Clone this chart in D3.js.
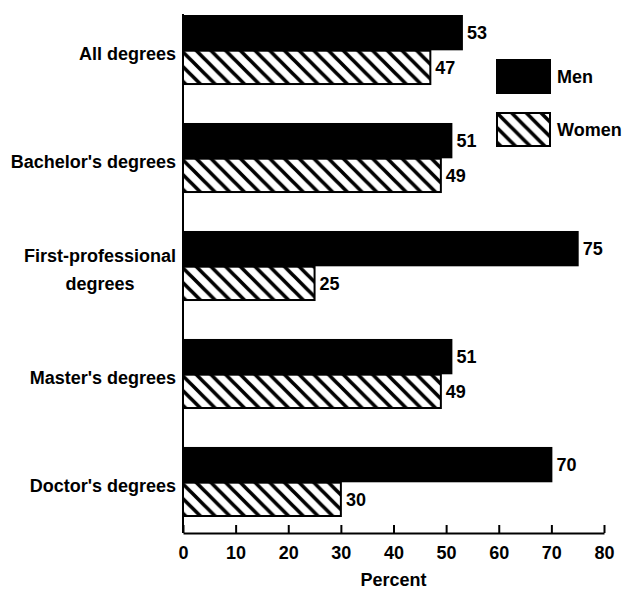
<!DOCTYPE html>
<meta charset="utf-8">
<script src="https://d3js.org/d3.v7.min.js"></script>
<style>
body { margin: 0; background: #fff; }
text { font-family: "Liberation Sans", Arial, sans-serif; fill: #000; }
.cat { font-size: 18px; font-weight: bold; }
.val { font-size: 18px; font-weight: bold; }
.axis text { font-size: 18px; font-weight: bold; }
.axis path, .axis line { stroke: #000; stroke-width: 2px; }
</style>
<div id="main"></div>
<script>

// data (percent of degrees conferred)
const categories = ["All degrees", "Bachelor's degrees", "First-professional\ndegrees", "Master's degrees", "Doctor's degrees"];
const men   = [53, 51, 75, 51, 70];
const women = [47, 49, 25, 49, 30];
const series = ["Men", "Women"];
const ticks = [0, 10, 20, 30, 40, 50, 60, 70, 80];

const width = 628, height = 593;

let svg = d3.select("#main").append("svg")
    .attr("width", width)
    .attr("height", height);

// hatch for women bars, lines running top-left to bottom-right
let defs = svg.append("defs");
let s = 14.7;
defs.append("pattern")
    .attr("id", "hatch")
    .attr("patternUnits", "userSpaceOnUse")
    .attr("width", s)
    .attr("height", s)
  .append("path")
    .attr("d", `M0,0L${s},${s}M${-s/4},${3*s/4}L${s/4},${5*s/4}M${3*s/4},${-s/4}L${5*s/4},${s/4}`)
    .attr("stroke", "#000")
    .attr("stroke-width", 3.6);

let x = d3.scaleLinear().domain([0, 80]).range([183, 604]);

let y = d3.scaleBand()
    .domain(categories)
    .range([16, 516])
    .paddingInner(0.37)
    .paddingOuter(0);

let y1 = d3.scaleBand()
    .domain(series)
    .range([0, y.bandwidth()])
    .paddingInner(0.04);

let rows = categories.map((c, i) => ({cat: c, Men: men[i], Women: women[i]}));

let group = svg.append("g").selectAll("g")
    .data(rows)
    .enter().append("g")
    .attr("transform", d => "translate(0," + y(d.cat) + ")");

let bars = group.selectAll("g")
    .data(d => series.map(k => ({key: k, value: d[k]})))
    .enter().append("g");

bars.append("rect")
    .attr("x", x(0))
    .attr("y", d => y1(d.key))
    .attr("width", d => x(d.value) - x(0))
    .attr("height", y1.bandwidth())
    .attr("fill", d => d.key === "Men" ? "#000" : "url(#hatch)")
    .attr("stroke", "#000")
    .attr("stroke-width", 2);

bars.append("text")
    .attr("class", "val")
    .attr("x", d => x(d.value) + 5)
    .attr("y", d => y1(d.key) + y1.bandwidth() / 2)
    .attr("dy", "0.36em")
    .text(d => d.value);

// category labels
group.each(function(d) {
  let lines = d.cat.split("\n");
  let cy = y.bandwidth() / 2 + 4;
  let t = d3.select(this).append("text")
      .attr("class", "cat")
      .attr("text-anchor", "end")
      .attr("x", 176)
      .attr("y", cy - (lines.length - 1) * 14)
      .attr("dy", "0.35em")
      .text(lines[0]);
  if (lines.length > 1) {
    let w = t.node().getComputedTextLength();
    d3.select(this).append("text")
        .attr("class", "cat")
        .attr("text-anchor", "middle")
        .attr("x", 176 - w / 2)
        .attr("y", cy + 14)
        .attr("dy", "0.35em")
        .text(lines[1]);
  }
});

// axes
let axisY = 533;
svg.append("g")
    .attr("class", "axis")
    .attr("transform", "translate(0," + axisY + ")")
    .call(d3.axisBottom(x).tickValues(ticks).tickSizeInner(-8).tickSizeOuter(0).tickPadding(13))
    .call(g => g.selectAll("text").attr("font-family", null).attr("font-size", null));

svg.append("line")
    .attr("x1", x(0)).attr("x2", x(0))
    .attr("y1", 14).attr("y2", axisY)
    .attr("stroke", "#000")
    .attr("stroke-width", 2);

svg.append("text")
    .attr("class", "cat")
    .attr("x", (x(0) + x(80)) / 2)
    .attr("y", 586)
    .attr("text-anchor", "middle")
    .text("Percent");

// legend
let legend = svg.append("g").selectAll("g")
    .data(series)
    .enter().append("g")
    .attr("transform", (d, i) => "translate(497," + (60 + i * 53) + ")");

legend.append("rect")
    .attr("width", 53)
    .attr("height", 33)
    .attr("fill", d => d === "Men" ? "#000" : "url(#hatch)")
    .attr("stroke", "#000")
    .attr("stroke-width", 2);

legend.append("text")
    .attr("class", "cat")
    .attr("x", 60)
    .attr("y", 17)
    .attr("dy", "0.35em")
    .text(d => d);

</script>
